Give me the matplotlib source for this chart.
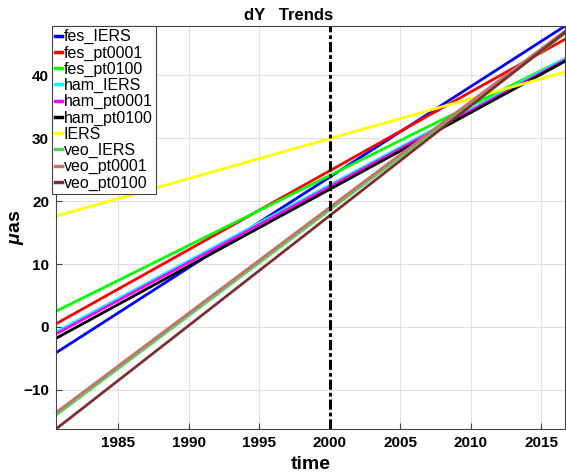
import numpy as np
import matplotlib.pyplot as plt

plt.rcParams["font.family"] = ["Liberation Sans", "DejaVu Sans"]
plt.rcParams["mathtext.fontset"] = "custom"
plt.rcParams["mathtext.it"] = "Liberation Sans:italic:bold"
plt.rcParams["mathtext.rm"] = "Liberation Sans:bold"

# trend lines: value at first and last epoch
t = [1980.6, 2016.7]
names = ["fes_IERS", "fes_pt0001", "fes_pt0100", "ham_IERS", "ham_pt0001",
         "ham_pt0100", "IERS", "veo_IERS", "veo_pt0001", "veo_pt0100"]
starts = [-4.1, 0.5, 2.5, -0.8, -1.1, -1.8, 17.6, -14.0, -13.6, -16.2]
ends = [47.8, 45.7, 42.6, 42.6, 42.4, 42.2, 40.5, 46.6, 47.0, 46.8]
colors = ["#0000ff", "#ff0000", "#00ff00", "#00ffff", "#ff00ff", "#000000",
          "#ffff00", "#5ccc5c", "#c87070", "#7a3030"]

fig = plt.figure(figsize=(5.66, 4.73), dpi=100)
ax = fig.add_axes([56 / 566, 44 / 473, 509 / 566, 403 / 473])

for name, y0, y1, c in zip(names, starts, ends, colors):
    ax.plot(t, [y0, y1], color=c, lw=2, label=name)

ax.axvline(2000, color="k", ls="-.", lw=2.2, dashes=(3.3, 1.0, 1.2, 1.0))

ax.set_xlim(t[0], t[1])
ax.set_ylim(-16.2, 47.8)
ax.set_xticks([1985, 1990, 1995, 2000, 2005, 2010, 2015])
ax.set_yticks([-10, 0, 10, 20, 30, 40])
ax.grid(True, color="#e0e0e0", lw=0.8)
ax.tick_params(direction="in", labelsize=11, length=4, color="#444444", pad=5)
for lab in ax.get_xticklabels() + ax.get_yticklabels():
    lab.set_fontweight("bold")
for s in ax.spines.values():
    s.set_color("#444444")

ax.set_title("dY   Trends", fontsize=12, fontweight="bold", pad=4, x=0.456)
ax.set_xlabel("time", fontsize=14, fontweight="bold", labelpad=4)
ax.set_ylabel(r"$\mu$as", fontsize=14, fontweight="bold")
ax.yaxis.set_label_coords(-0.058, 0.5)

leg = ax.legend(loc="upper left", bbox_to_anchor=(-0.008, 1.0), fontsize=11.5,
                handlelength=0.42, handletextpad=0.12, borderpad=0.2,
                labelspacing=0.07, borderaxespad=0, fancybox=False,
                framealpha=1)
leg.get_frame().set_edgecolor("#444444")
leg.get_frame().set_linewidth(0.8)
for h in leg.get_lines():
    h.set_linewidth(2.5)

plt.savefig("out.png", dpi=100)
